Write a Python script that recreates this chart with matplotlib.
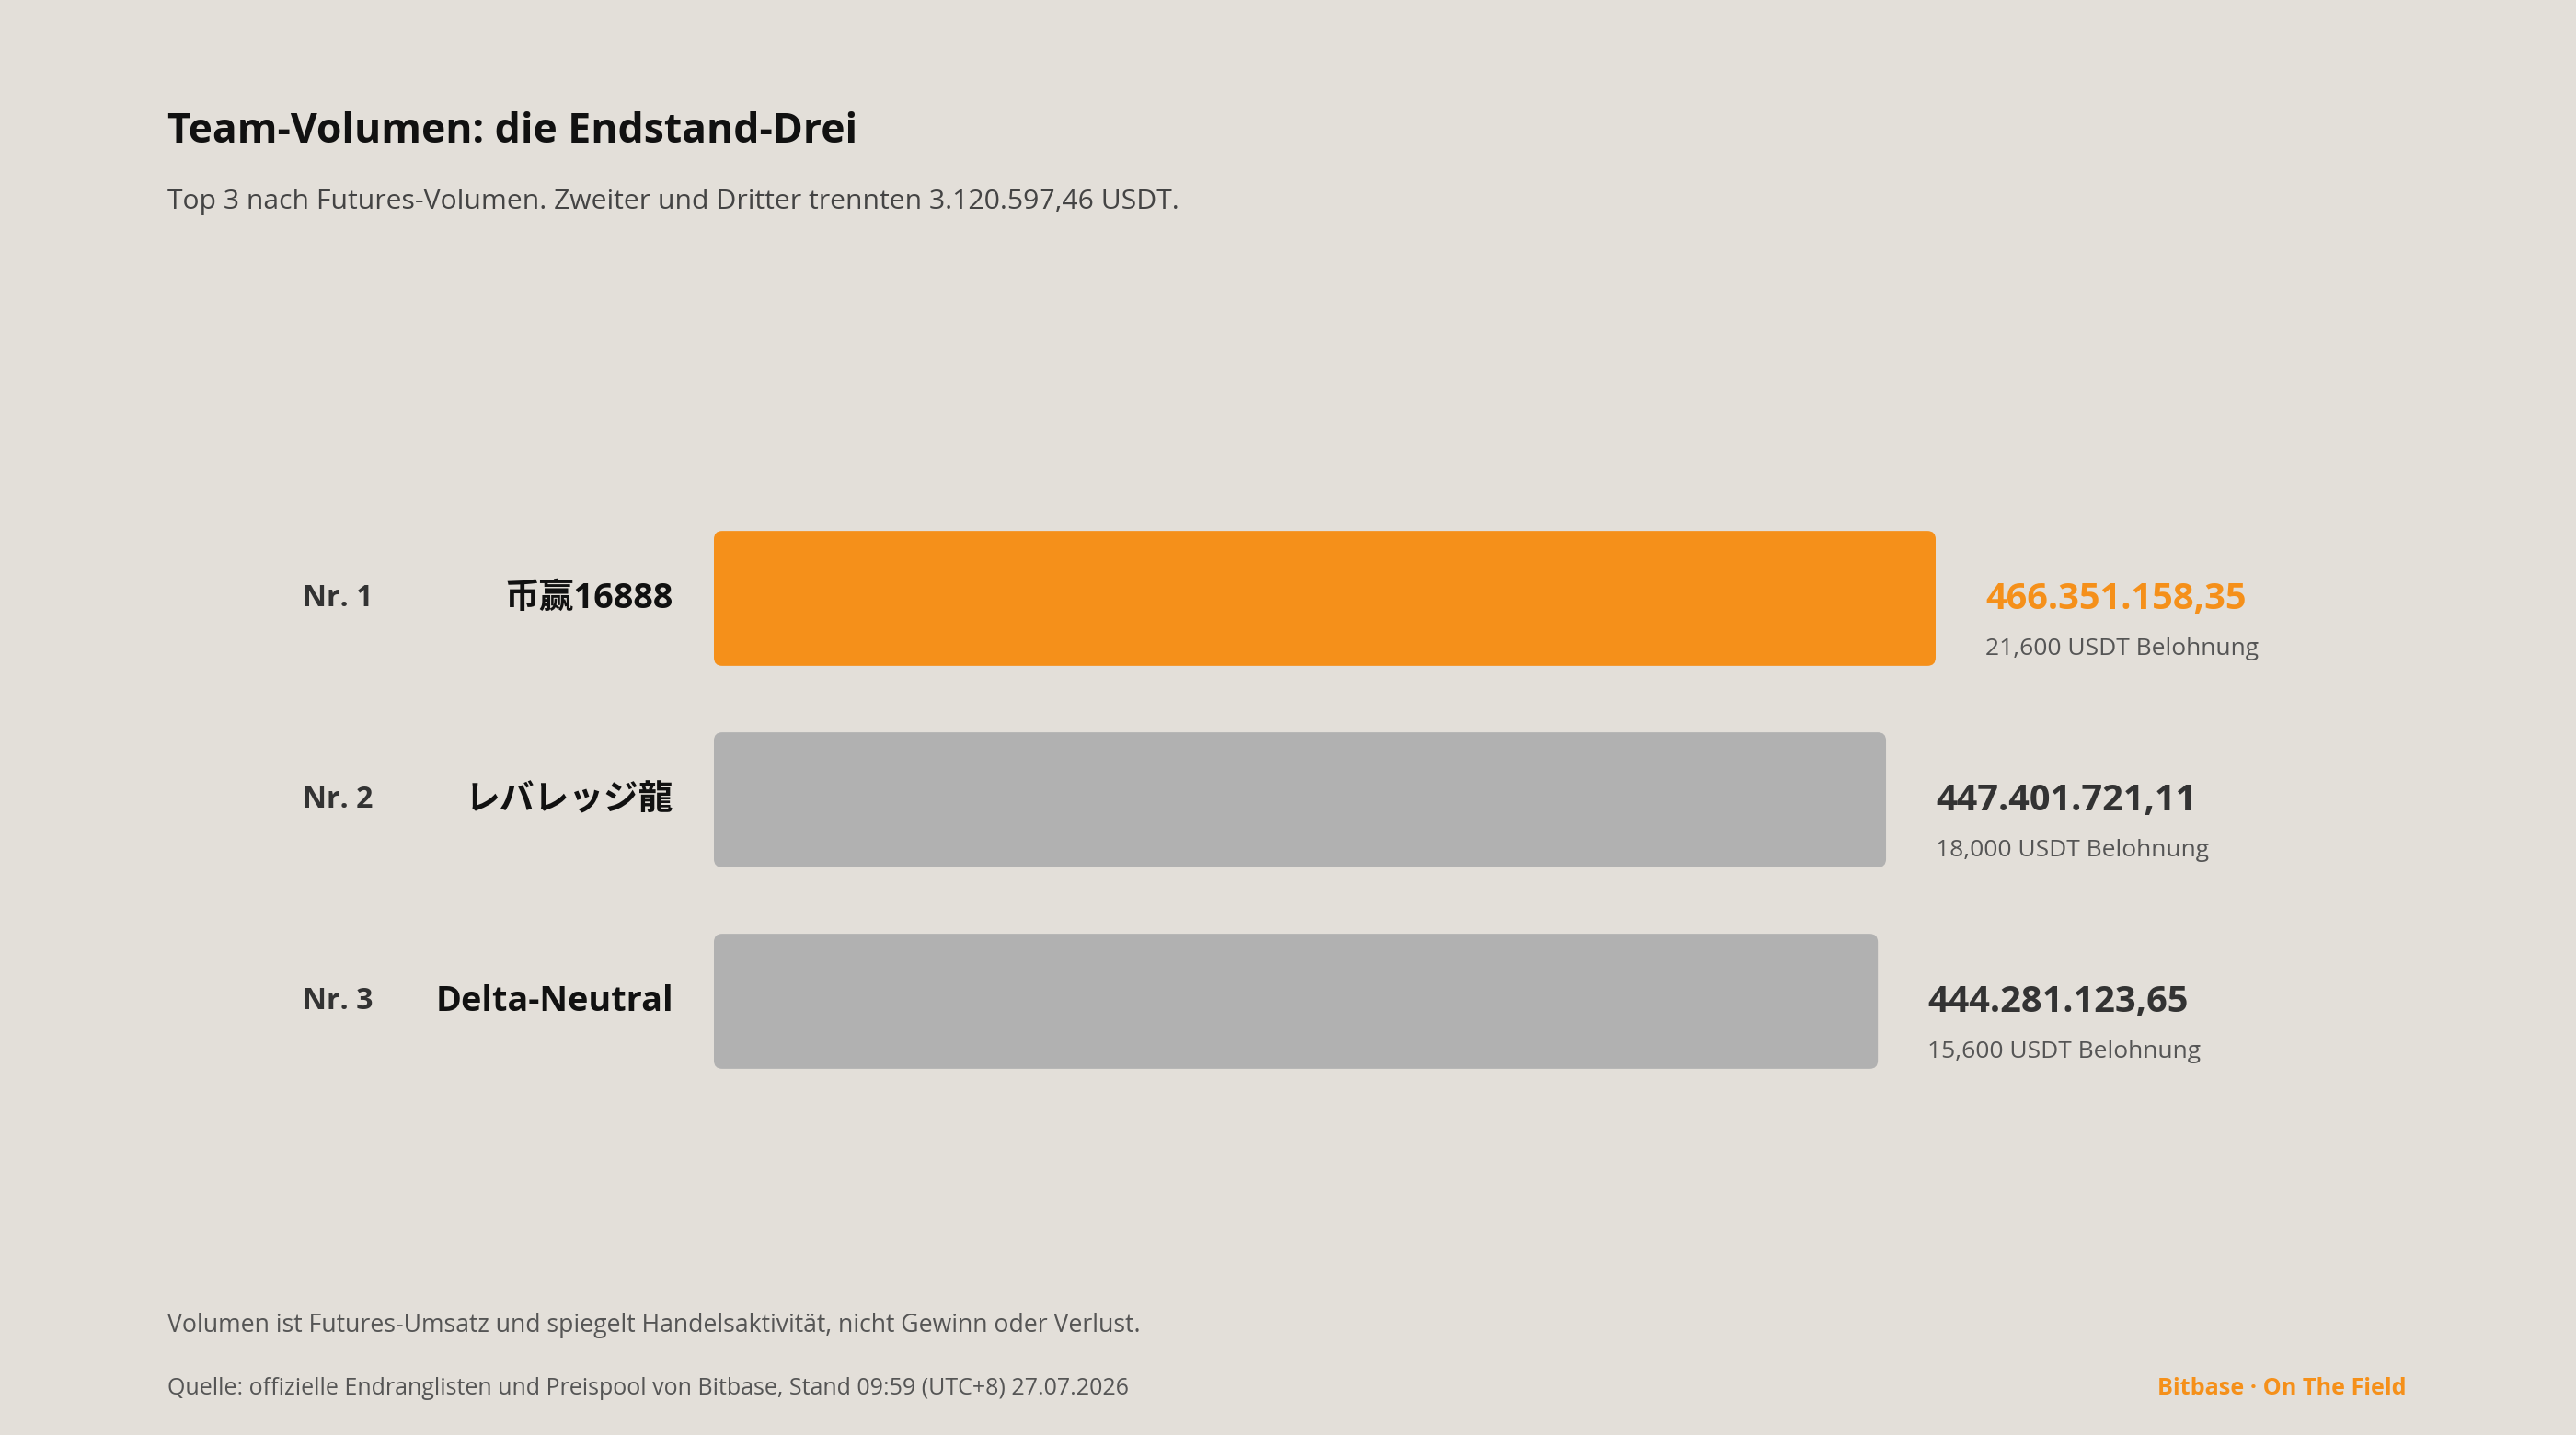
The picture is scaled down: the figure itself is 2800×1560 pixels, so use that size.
import matplotlib
matplotlib.use('Agg')
import matplotlib.pyplot as plt
from matplotlib.patches import FancyBboxPatch
from matplotlib.transforms import blended_transform_factory

# data
ranks = ['Nr. 1', 'Nr. 2', 'Nr. 3']
teams = ['币赢16888', 'レバレッジ龍', 'Delta-Neutral']
volumes = [466351158.35, 447401721.11, 444281123.65]
volume_labels = ['466.351.158,35', '447.401.721,11', '444.281.123,65']
rewards = ['21,600 USDT Belohnung', '18,000 USDT Belohnung', '15,600 USDT Belohnung']

BG = '#E3DFD9'
ORANGE = '#F5901A'
GRAY = '#B1B1B1'
LATIN = ['Open Sans', 'Noto Sans CJK JP', 'DejaVu Sans']

plt.rcParams['font.family'] = LATIN

fig = plt.figure(figsize=(14, 7.8), dpi=200, facecolor=BG)

# bar area: x 776..2104 px, rows centred 650 / 870 / 1089 px
ax = fig.add_axes([776 / 2800, 1 - 1198 / 1560, 1328 / 2800, 657 / 1560])
ax.set_facecolor(BG)
ax.set_xlim(0, max(volumes))
ax.set_ylim(2.5, -0.5)
ax.axis('off')

colors = [ORANGE, GRAY, GRAY]
bars = ax.barh(range(len(volumes)), volumes, height=0.67, color=colors)

# swap plain bars for rounded ones
x_per_px = max(volumes) / 1328
y_per_px = 1 / 219
for b, c in zip(bars, colors):
    b.set_visible(False)
    rb = FancyBboxPatch((b.get_x(), b.get_y()), b.get_width(), b.get_height(),
                        boxstyle='round,pad=0,rounding_size=%f' % (9 * x_per_px),
                        mutation_aspect=y_per_px / x_per_px,
                        facecolor=c, edgecolor='none')
    ax.add_patch(rb)

lab = blended_transform_factory(fig.transFigure, ax.transData)
for i in range(len(volumes)):
    ax.annotate(ranks[i], xy=(329 / 2800, i), xycoords=lab, xytext=(0, -3.2),
                textcoords='offset points', ha='left', va='baseline',
                fontsize=11.5, fontweight='bold', color='#333333')
    ax.annotate(teams[i], xy=(732 / 2800, i), xycoords=lab, xytext=(0, -3.8),
                textcoords='offset points', ha='right', va='baseline',
                fontsize=13.6, fontweight='bold', color='#111111')
    ax.annotate(volume_labels[i], xy=(volumes[i], i), xytext=(19.5, -4.2),
                textcoords='offset points', ha='left', va='baseline',
                fontsize=14.3, fontweight='bold',
                color=ORANGE if i == 0 else '#333333')
    ax.annotate(rewards[i], xy=(volumes[i], i), xytext=(19.5, -22),
                textcoords='offset points', ha='left', va='baseline',
                fontsize=9.5, color='#555555')

fig.text(182 / 2800, 1 - 155 / 1560, 'Team-Volumen: die Endstand-Drei',
         fontsize=16, fontweight='bold', color='#111111', va='baseline')
fig.text(182 / 2800, 1 - 227 / 1560,
         'Top 3 nach Futures-Volumen. Zweiter und Dritter trennten 3.120.597,46 USDT.',
         fontsize=10.85, color='#444444', va='baseline')
fig.text(182 / 2800, 1 - 1448 / 1560,
         'Volumen ist Futures-Umsatz und spiegelt Handelsaktivität, nicht Gewinn oder Verlust.',
         fontsize=9.6, color='#555555', va='baseline')
fig.text(182 / 2800, 1 - 1516 / 1560,
         'Quelle: offizielle Endranglisten und Preispool von Bitbase, Stand 09:59 (UTC+8) 27.07.2026',
         fontsize=9.0, color='#555555', va='baseline')
fig.text(2616 / 2800, 1 - 1516 / 1560, 'Bitbase · On The Field',
         fontsize=9.1, fontweight='bold', color=ORANGE, va='baseline', ha='right')

fig.savefig('out.png', dpi=200, facecolor=BG)
